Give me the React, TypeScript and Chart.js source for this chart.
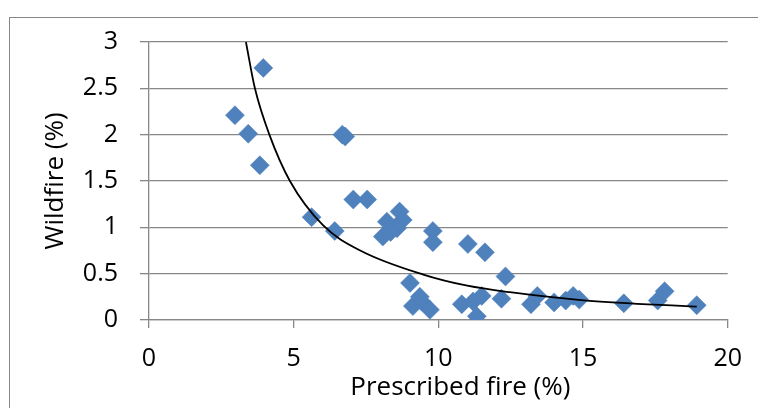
import React, { useEffect, useRef } from 'react';
import { Chart, registerables } from 'chart.js';

Chart.register(...registerables);

// Scatter data
const prescribedFire = [
  3.95, 2.97, 3.43, 3.83, 5.62, 6.42, 6.68, 6.78, 7.06, 7.54,
  8.22, 8.66, 8.77, 8.57, 8.08, 8.35, 9.81, 9.81, 11.02, 11.61,
  9.02, 9.12, 9.42, 9.36, 9.71, 10.81, 11.33, 11.5, 11.2,
  12.32, 12.18, 13.2, 13.42, 14.0, 14.4, 14.66, 14.87,
  16.41, 17.58, 17.82, 18.93,
];
const wildfire = [
  2.72, 2.21, 2.01, 1.67, 1.11, 0.96, 2.0, 1.98, 1.3, 1.3,
  1.06, 1.17, 1.08, 0.99, 0.9, 0.95, 0.96, 0.84, 0.82, 0.73,
  0.4, 0.15, 0.2, 0.25, 0.11, 0.17, 0.04, 0.26, 0.2,
  0.47, 0.23, 0.17, 0.26, 0.19, 0.21, 0.26, 0.22,
  0.18, 0.21, 0.31, 0.16,
];

// Trend line points
const trendX = [3.35, 3.66, 4.16, 4.87, 6.02, 7.3, 9.48, 11.0, 12.47, 15.12, 18.93];
const trendY = [3.0, 2.5, 2.0, 1.5, 1.02, 0.75, 0.49, 0.37, 0.3, 0.21, 0.145];

const xTicks = [0, 5, 10, 15, 20];
const yTicks = [0, 0.5, 1, 1.5, 2, 2.5, 3];

const xTitle = 'Prescribed fire (%)';
const yTitle = 'Wildfire (%)';

const FONT = 'Open Sans';
const GRID = '#878787';

const xTitlePlugin = {
  id: 'xTitleOffset',
  afterDraw(chart: any) {
    const { ctx, chartArea } = chart;
    ctx.save();
    ctx.font = `26px "${FONT}"`;
    ctx.fillStyle = '#000';
    ctx.textAlign = 'center';
    ctx.textBaseline = 'middle';
    ctx.fillText(xTitle, (chartArea.left + chartArea.right) / 2 + 22, 388);
    ctx.restore();
  },
};

export default function App() {
  const ref = useRef<HTMLCanvasElement | null>(null);

  useEffect(() => {
    if (!ref.current) return;
    const scatterPts = prescribedFire.map((x, i) => ({ x, y: wildfire[i] }));
    const trendPts = trendX.map((x, i) => ({ x, y: trendY[i] }));
    const chart = new Chart(ref.current, {
      type: 'scatter',
      data: {
        datasets: [
          {
            type: 'line',
            data: trendPts,
            borderColor: '#000000',
            borderWidth: 1.8,
            pointRadius: 0,
            showLine: true,
            fill: false,
            cubicInterpolationMode: 'monotone',
            order: 0,
          } as any,
          {
            data: scatterPts,
            pointStyle: 'rectRot',
            pointRadius: 9.5,
            pointHoverRadius: 9.5,
            backgroundColor: '#4F81BD',
            borderColor: '#4A7EBB',
            borderWidth: 0.5,
            order: 1,
          },
        ],
      },
      plugins: [xTitlePlugin],
      options: {
        animation: false,
        responsive: false,
        devicePixelRatio: 1,
        layout: { padding: { left: 0, top: 42, right: 30, bottom: 0 } },
        plugins: { legend: { display: false }, tooltip: { enabled: false } },
        scales: {
          x: {
            type: 'linear',
            min: 0,
            max: 20,
            afterBuildTicks: (s: any) => {
              s.ticks = xTicks.map((v) => ({ value: v }));
            },
            afterFit: (s: any) => {
              s.height = 88;
            },
            ticks: {
              color: '#000',
              font: { family: FONT, size: 25 },
              padding: 16,
              maxRotation: 0,
              callback: (v: any) => String(v),
            },
            grid: {
              drawOnChartArea: false,
              drawTicks: true,
              tickLength: 8,
              color: GRID,
              lineWidth: 1.3,
            },
            border: { display: true, color: GRID, width: 1.3 },
            title: { display: false, text: xTitle },
          },
          y: {
            type: 'linear',
            min: 0,
            max: 3,
            afterBuildTicks: (s: any) => {
              s.ticks = yTicks.map((v) => ({ value: v }));
            },
            afterFit: (s: any) => {
              s.width = 149;
            },
            ticks: {
              color: '#000',
              font: { family: FONT, size: 25 },
              padding: 22,
              callback: (v: any) => String(v),
            },
            grid: {
              drawTicks: true,
              tickLength: 9,
              color: GRID,
              lineWidth: 1.3,
            },
            border: { display: true, color: GRID, width: 1.3 },
            title: {
              display: true,
              text: yTitle,
              color: '#000',
              font: { family: FONT, size: 26 },
              padding: { top: 40, bottom: 0 },
            },
          },
        },
      },
    });
    return () => chart.destroy();
  }, []);

  return (
    <div style={{ position: 'fixed', left: 0, top: 0, width: 758, height: 408, overflow: 'hidden', background: '#fff' }}>
      <div
        style={{
          position: 'absolute',
          left: 9,
          top: 17,
          width: 800,
          height: 500,
          borderLeft: '1px solid #878787',
          borderTop: '1px solid #878787',
        }}
      />
      <canvas ref={ref} width={758} height={408} style={{ position: 'absolute', left: 0, top: 0, width: 758, height: 408 }} />
    </div>
  );
}
